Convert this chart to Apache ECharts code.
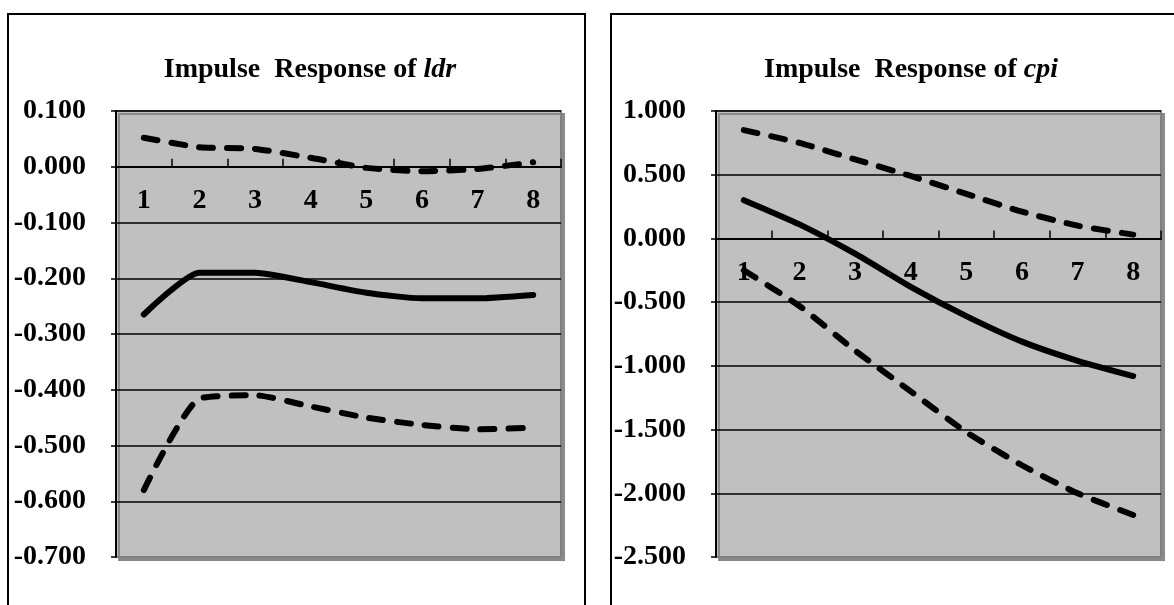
<!DOCTYPE html>
<html>
<head>
<meta charset="utf-8">
<script src="https://cdn.jsdelivr.net/npm/echarts@6/dist/echarts.min.js"></script>
<style>
  html, body { margin: 0; padding: 0; background: #fff; }
  #chart { width: 1174px; height: 605px; }
</style>
</head>
<body>
<div id="chart"></div>
<script>
// periods after the shock
const periods = ["1", "2", "3", "4", "5", "6", "7", "8"];

// response of ldr
const ldrResponse = [-0.265, -0.19, -0.19, -0.207, -0.226, -0.236, -0.236, -0.23];
const ldrUpper = [0.052, 0.035, 0.032, 0.016, -0.002, -0.008, -0.004, 0.008];
const ldrLower = [-0.58, -0.416, -0.41, -0.43, -0.45, -0.463, -0.471, -0.468];

// response of cpi
const cpiResponse = [0.3, 0.11, -0.12, -0.38, -0.61, -0.81, -0.96, -1.08];
const cpiUpper = [0.85, 0.75, 0.62, 0.49, 0.35, 0.21, 0.1, 0.03];
const cpiLower = [-0.25, -0.53, -0.88, -1.2, -1.52, -1.78, -2.0, -2.17];

const FONT = "'Liberation Serif', 'Times New Roman', serif";
const GRID_TOP = 111;
const GRID_H = 446;

const chart = echarts.init(document.getElementById("chart"));

const titleStyle = {
  fontFamily: FONT,
  fontWeight: "bold",
  fontSize: 28,
  color: "#000",
  rich: {
    i: { fontFamily: FONT, fontWeight: "bold", fontStyle: "italic", fontSize: 28, color: "#000" },
  },
};

const makeGrid = (left) => ({
  left: left,
  top: GRID_TOP,
  width: 445,
  height: GRID_H,
  show: true,
  backgroundColor: "#C0C0C0",
  borderColor: "#808080",
  borderWidth: 2,
  shadowColor: "#8a8a8a",
  shadowOffsetX: 3,
  shadowOffsetY: 3,
  shadowBlur: 0,
});

// category axis sits on the zero line: shift it up from the grid bottom
const makeX = (gridIndex, min, max) => ({
  type: "category",
  gridIndex: gridIndex,
  data: periods,
  boundaryGap: true,
  offset: -GRID_H * (0 - min) / (max - min),
  axisLine: { onZero: false, lineStyle: { color: "#000", width: 2 } },
  axisTick: { show: true, inside: true, length: 8, lineStyle: { color: "#000", width: 1.5 } },
  axisLabel: {
    margin: 20,
    fontFamily: FONT,
    fontWeight: "bold",
    fontSize: 28,
    color: "#000",
  },
  splitLine: { show: false },
});

const makeY = (gridIndex, min, max, step, nLines) => {
  const colors = [];
  for (let i = 0; i < nLines; i++) colors.push(i === 0 ? "#808080" : "#000");
  return {
    type: "value",
    gridIndex: gridIndex,
    min: min,
    max: max,
    interval: step,
    axisLine: { show: true, lineStyle: { color: "#000", width: 2 } },
    axisTick: { show: true, length: 5, lineStyle: { color: "#000", width: 1.5 } },
    axisLabel: {
      margin: 30,
      fontFamily: FONT,
      fontWeight: "bold",
      fontSize: 28,
      color: "#000",
      formatter: (v) => v.toFixed(3),
    },
    splitLine: { show: true, lineStyle: { color: colors, width: 1.5 } },
  };
};

const makeLine = (data, idx, dashed) => ({
  type: "line",
  xAxisIndex: idx,
  yAxisIndex: idx,
  data: data,
  symbol: "none",
  smooth: 0.2,
  lineStyle: {
    color: "#000",
    width: 6,
    type: dashed ? [14, 14] : "solid",
    cap: "round",
    join: "round",
  },
  z: 5,
});

const option = {
  animation: false,
  title: [
    {
      text: "Impulse  Response of {i|ldr}",
      left: 305,
      top: 51,
      textAlign: "center",
      textStyle: titleStyle,
    },
    {
      text: "Impulse  Response of {i|cpi}",
      left: 906,
      top: 51,
      textAlign: "center",
      textStyle: titleStyle,
    },
  ],
  graphic: [
    {
      type: "rect",
      shape: { x: 8, y: 14, width: 577, height: 640 },
      style: { fill: "none", stroke: "#000", lineWidth: 2 },
      silent: true,
    },
    {
      type: "rect",
      shape: { x: 611, y: 14, width: 620, height: 640 },
      style: { fill: "none", stroke: "#000", lineWidth: 2 },
      silent: true,
    },
  ],
  grid: [makeGrid(116), makeGrid(716)],
  xAxis: [makeX(0, -0.7, 0.1), makeX(1, -2.5, 1)],
  yAxis: [makeY(0, -0.7, 0.1, 0.1, 9), makeY(1, -2.5, 1, 0.5, 8)],
  series: [
    makeLine(ldrUpper, 0, true),
    makeLine(ldrResponse, 0, false),
    makeLine(ldrLower, 0, true),
    makeLine(cpiUpper, 1, true),
    makeLine(cpiResponse, 1, false),
    makeLine(cpiLower, 1, true),
  ],
};

chart.setOption(option);
</script>
</body>
</html>
